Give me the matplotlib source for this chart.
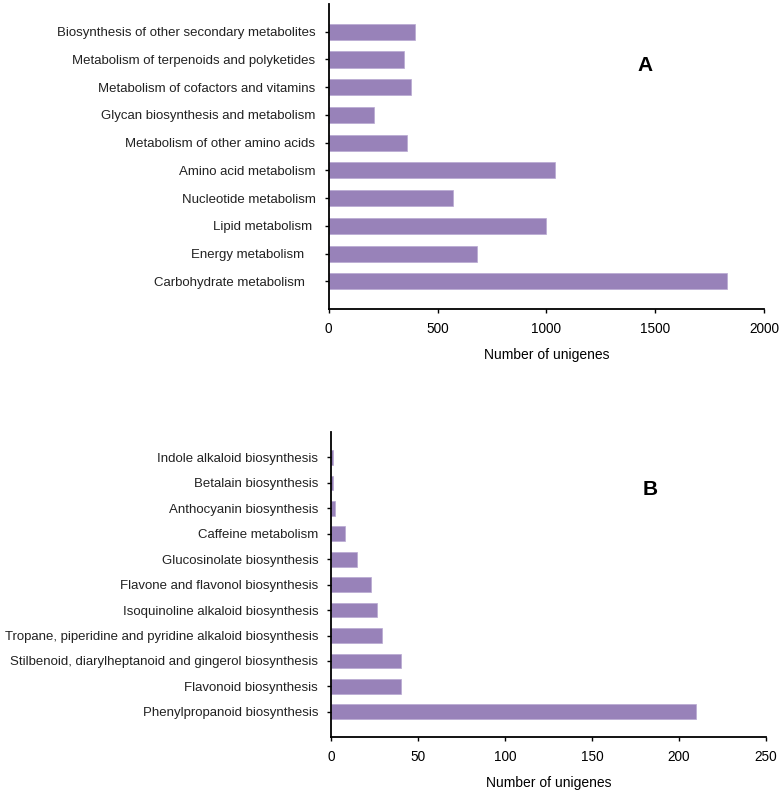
import matplotlib
matplotlib.use("Agg")
import matplotlib.pyplot as plt

# Panel A: KEGG metabolism categories (bottom to top)
cats_a = [
    "Carbohydrate metabolism   ",
    "Energy metabolism   ",
    "Lipid metabolism ",
    "Nucleotide metabolism",
    "Amino acid metabolism",
    "Metabolism of other amino acids",
    "Glycan biosynthesis and metabolism",
    "Metabolism of cofactors and vitamins",
    "Metabolism of terpenoids and polyketides",
    "Biosynthesis of other secondary metabolites",
]
vals_a = [1831, 680, 1000, 570, 1041, 360, 208, 378, 347, 395]
xticks_a = [0, 500, 1000, 1500, 2000]

# Panel B: secondary metabolite pathways (bottom to top)
cats_b = [
    "Phenylpropanoid biosynthesis",
    "Flavonoid biosynthesis",
    "Stilbenoid, diarylheptanoid and gingerol biosynthesis",
    "Tropane, piperidine and pyridine alkaloid biosynthesis",
    "Isoquinoline alkaloid biosynthesis",
    "Flavone and flavonol biosynthesis",
    "Glucosinolate biosynthesis",
    "Caffeine metabolism",
    "Anthocyanin biosynthesis",
    "Betalain biosynthesis",
    "Indole alkaloid biosynthesis",
]
vals_b = [210, 40, 40, 29, 26, 23, 15, 8, 2, 1, 1]
xticks_b = [0, 50, 100, 150, 200, 250]

BAR_COLOR = "#9882b9"
plt.rcParams["font.family"] = ["Liberation Sans", "DejaVu Sans"]

fig = plt.figure(figsize=(7.82, 7.94), dpi=100)
ax_a = fig.add_axes([0.4203, 0.6108, 0.5567, 0.3841])
ax_b = fig.add_axes([0.4237, 0.0714, 0.5559, 0.3845])


def draw_panel(ax, cats, vals, xticks, letter, letter_xy):
    ypos = range(len(cats))
    ax.barh(ypos, vals, height=0.58, color=BAR_COLOR, edgecolor="#b8a8d2", linewidth=0.5)
    ax.set_yticks(list(ypos))
    ax.set_yticklabels(cats, fontsize=9.5, color="#222222")
    ax.set_ylim(-1, len(cats))
    ax.set_xlim(xticks[0], xticks[-1])
    ax.set_xticks(xticks)
    ax.tick_params(axis="x", labelsize=9.8, length=3, width=1, pad=6)
    ax.tick_params(axis="y", length=3, width=1, pad=6.5)
    ax.set_xlabel("Number of unigenes", fontsize=10, labelpad=9)
    for side in ("top", "right"):
        ax.spines[side].set_visible(False)
    for side in ("left", "bottom"):
        ax.spines[side].set_linewidth(1.3)
    ax.text(letter_xy[0], letter_xy[1], letter, transform=ax.transAxes,
            fontsize=15, fontweight="bold", ha="center", va="center")


draw_panel(ax_a, cats_a, vals_a, xticks_a, "A", (0.727, 0.80))
draw_panel(ax_b, cats_b, vals_b, xticks_b, "B", (0.733, 0.813))

fig.savefig("out.png", dpi=100)
